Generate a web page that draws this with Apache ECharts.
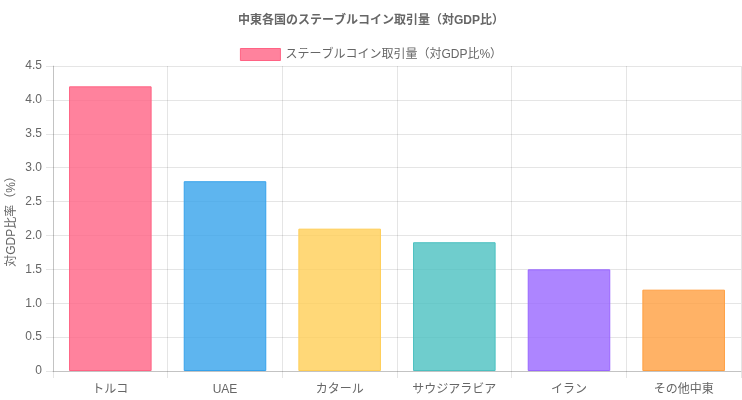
<!DOCTYPE html>
<html><head><meta charset="utf-8">
<script src="https://cdn.jsdelivr.net/npm/echarts@6/dist/echarts.min.js"></script>
<style>html,body{margin:0;padding:0;background:#fff}#c{width:742px;height:400px}</style>
</head><body><div id="c"></div>
<script>
const categories = ['トルコ','UAE','カタール','サウジアラビア','イラン','その他中東'];
const values = [4.2, 2.8, 2.1, 1.9, 1.5, 1.2];
const fillColors = ['rgba(255,99,132,0.8)','rgba(54,162,235,0.8)','rgba(255,206,86,0.8)','rgba(75,192,192,0.8)','rgba(153,102,255,0.8)','rgba(255,159,64,0.8)'];
const borderColors = ['rgb(255,99,132)','rgb(54,162,235)','rgb(255,206,86)','rgb(75,192,192)','rgb(153,102,255)','rgb(255,159,64)'];
const seriesName = 'ステーブルコイン取引量（対GDP比%）';
const titleText = '中東各国のステーブルコイン取引量（対GDP比）';
const yName = '対GDP比率（%）';

const font = "'Liberation Sans', 'Noto Sans CJK JP', sans-serif";
const chart = echarts.init(document.getElementById('c'), null, {renderer:'canvas'});
chart.setOption({
  animation:false,
  textStyle:{fontFamily:font},
  title:{text:titleText,left:'center',top:10,textStyle:{fontSize:12,fontWeight:'bold',color:'#666',fontFamily:font}},
  legend:{data:[{name:seriesName,icon:'rect'}],top:43,left:'center',itemWidth:40,itemHeight:12,itemGap:10,
    textStyle:{fontSize:12,color:'#666',fontFamily:font},
    itemStyle:{color:fillColors[0],borderColor:borderColors[0],borderWidth:1}},
  grid:{left:53,right:1,top:66,bottom:29,containLabel:false,outerBoundsMode:'none'},
  xAxis:{type:'category',data:categories,boundaryGap:true,
    axisLine:{show:true,lineStyle:{color:'rgba(0,0,0,0.15)'}},
    axisTick:{show:true,length:7,alignWithLabel:false,lineStyle:{color:'rgba(0,0,0,0.1)'}},
    splitLine:{show:true,lineStyle:{color:'rgba(0,0,0,0.1)'}},
    axisLabel:{color:'#666',fontSize:12,margin:13,fontFamily:font}},
  yAxis:{type:'value',min:0,max:4.5,interval:0.5,
    name:yName,nameLocation:'middle',nameGap:35,nameRotate:90,nameMoveOverlap:false,
    nameTextStyle:{color:'#666',fontSize:12,fontFamily:font},
    axisLine:{show:true,lineStyle:{color:'rgba(0,0,0,0.15)'}},
    axisTick:{show:true,length:7,lineStyle:{color:'rgba(0,0,0,0.1)'}},
    splitLine:{show:true,lineStyle:{color:'rgba(0,0,0,0.1)'}},
    axisLabel:{color:'#666',fontSize:12,margin:11,fontFamily:font,
      formatter:v=> v===0?'0':v.toFixed(1)}},
  series:[{name:seriesName,type:'bar',barWidth:'72%',
    data:values.map((v,i)=>({value:v,itemStyle:{color:fillColors[i],borderColor:borderColors[i],borderWidth:1}})),
    itemStyle:{color:fillColors[0]}}]
});
</script></body></html>
